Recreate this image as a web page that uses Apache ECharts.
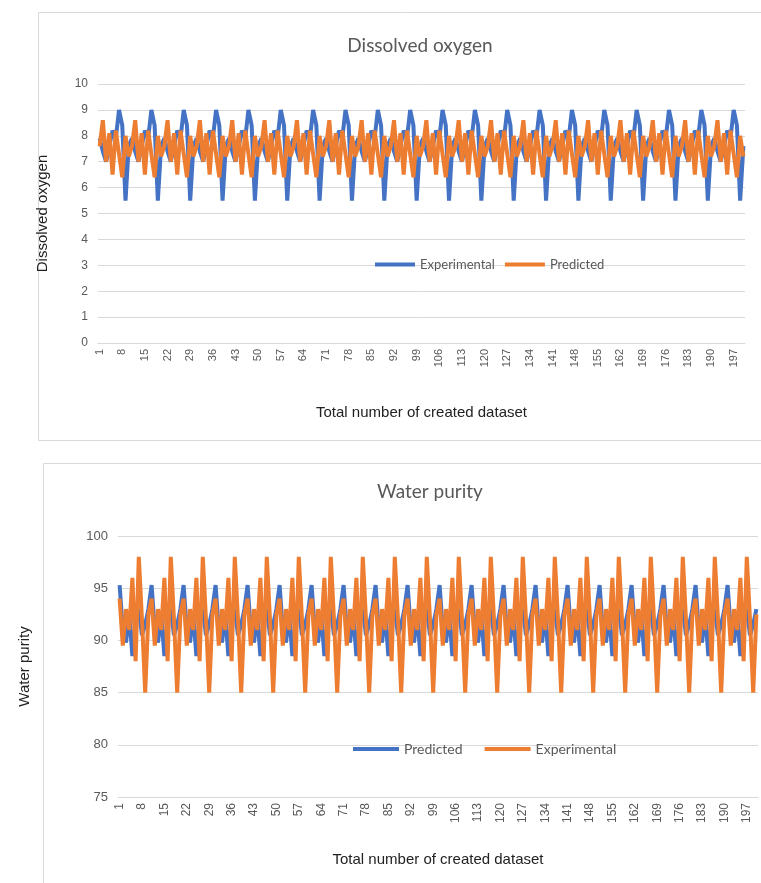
<!DOCTYPE html>
<html><head><meta charset="utf-8">
<script src="https://cdn.jsdelivr.net/npm/echarts@6/dist/echarts.min.js"></script>
<style>html,body{margin:0;padding:0;background:#fff}#c{width:761px;height:883px}</style>
</head><body><div id="c"></div>
<script>
const categories = [];
for (let i = 1; i <= 200; i++) categories.push(String(i));

const doExperimental = [
7.9,7.4,7.0,7.6,8.2,7.9,9.0,8.4,5.5,7.6,
7.9,7.4,7.0,7.6,8.2,7.9,9.0,8.4,5.5,7.6,
7.9,7.4,7.0,7.6,8.2,7.9,9.0,8.4,5.5,7.6,
7.9,7.4,7.0,7.6,8.2,7.9,9.0,8.4,5.5,7.6,
7.9,7.4,7.0,7.6,8.2,7.9,9.0,8.4,5.5,7.6,
7.9,7.4,7.0,7.6,8.2,7.9,9.0,8.4,5.5,7.6,
7.9,7.4,7.0,7.6,8.2,7.9,9.0,8.4,5.5,7.6,
7.9,7.4,7.0,7.6,8.2,7.9,9.0,8.4,5.5,7.6,
7.9,7.4,7.0,7.6,8.2,7.9,9.0,8.4,5.5,7.6,
7.9,7.4,7.0,7.6,8.2,7.9,9.0,8.4,5.5,7.6,
7.9,7.4,7.0,7.6,8.2,7.9,9.0,8.4,5.5,7.6,
7.9,7.4,7.0,7.6,8.2,7.9,9.0,8.4,5.5,7.6,
7.9,7.4,7.0,7.6,8.2,7.9,9.0,8.4,5.5,7.6,
7.9,7.4,7.0,7.6,8.2,7.9,9.0,8.4,5.5,7.6,
7.9,7.4,7.0,7.6,8.2,7.9,9.0,8.4,5.5,7.6,
7.9,7.4,7.0,7.6,8.2,7.9,9.0,8.4,5.5,7.6,
7.9,7.4,7.0,7.6,8.2,7.9,9.0,8.4,5.5,7.6,
7.9,7.4,7.0,7.6,8.2,7.9,9.0,8.4,5.5,7.6,
7.9,7.4,7.0,7.6,8.2,7.9,9.0,8.4,5.5,7.6,
7.9,7.4,7.0,7.6,8.2,7.9,9.0,8.4,5.5,7.6
];
const doPredicted = [
7.6,8.6,7.0,8.1,6.5,8.2,7.3,6.4,8.0,7.2,
7.6,8.6,7.0,8.1,6.5,8.2,7.3,6.4,8.0,7.2,
7.6,8.6,7.0,8.1,6.5,8.2,7.3,6.4,8.0,7.2,
7.6,8.6,7.0,8.1,6.5,8.2,7.3,6.4,8.0,7.2,
7.6,8.6,7.0,8.1,6.5,8.2,7.3,6.4,8.0,7.2,
7.6,8.6,7.0,8.1,6.5,8.2,7.3,6.4,8.0,7.2,
7.6,8.6,7.0,8.1,6.5,8.2,7.3,6.4,8.0,7.2,
7.6,8.6,7.0,8.1,6.5,8.2,7.3,6.4,8.0,7.2,
7.6,8.6,7.0,8.1,6.5,8.2,7.3,6.4,8.0,7.2,
7.6,8.6,7.0,8.1,6.5,8.2,7.3,6.4,8.0,7.2,
7.6,8.6,7.0,8.1,6.5,8.2,7.3,6.4,8.0,7.2,
7.6,8.6,7.0,8.1,6.5,8.2,7.3,6.4,8.0,7.2,
7.6,8.6,7.0,8.1,6.5,8.2,7.3,6.4,8.0,7.2,
7.6,8.6,7.0,8.1,6.5,8.2,7.3,6.4,8.0,7.2,
7.6,8.6,7.0,8.1,6.5,8.2,7.3,6.4,8.0,7.2,
7.6,8.6,7.0,8.1,6.5,8.2,7.3,6.4,8.0,7.2,
7.6,8.6,7.0,8.1,6.5,8.2,7.3,6.4,8.0,7.2,
7.6,8.6,7.0,8.1,6.5,8.2,7.3,6.4,8.0,7.2,
7.6,8.6,7.0,8.1,6.5,8.2,7.3,6.4,8.0,7.2,
7.6,8.6,7.0,8.1,6.5,8.2,7.3,6.4,8.0,7.2
];
const wpPredicted = [
95.3,91.0,89.8,92.5,88.5,92.0,93.0,90.5,91.5,93.0,
95.3,91.0,89.8,92.5,88.5,92.0,93.0,90.5,91.5,93.0,
95.3,91.0,89.8,92.5,88.5,92.0,93.0,90.5,91.5,93.0,
95.3,91.0,89.8,92.5,88.5,92.0,93.0,90.5,91.5,93.0,
95.3,91.0,89.8,92.5,88.5,92.0,93.0,90.5,91.5,93.0,
95.3,91.0,89.8,92.5,88.5,92.0,93.0,90.5,91.5,93.0,
95.3,91.0,89.8,92.5,88.5,92.0,93.0,90.5,91.5,93.0,
95.3,91.0,89.8,92.5,88.5,92.0,93.0,90.5,91.5,93.0,
95.3,91.0,89.8,92.5,88.5,92.0,93.0,90.5,91.5,93.0,
95.3,91.0,89.8,92.5,88.5,92.0,93.0,90.5,91.5,93.0,
95.3,91.0,89.8,92.5,88.5,92.0,93.0,90.5,91.5,93.0,
95.3,91.0,89.8,92.5,88.5,92.0,93.0,90.5,91.5,93.0,
95.3,91.0,89.8,92.5,88.5,92.0,93.0,90.5,91.5,93.0,
95.3,91.0,89.8,92.5,88.5,92.0,93.0,90.5,91.5,93.0,
95.3,91.0,89.8,92.5,88.5,92.0,93.0,90.5,91.5,93.0,
95.3,91.0,89.8,92.5,88.5,92.0,93.0,90.5,91.5,93.0,
95.3,91.0,89.8,92.5,88.5,92.0,93.0,90.5,91.5,93.0,
95.3,91.0,89.8,92.5,88.5,92.0,93.0,90.5,91.5,93.0,
95.3,91.0,89.8,92.5,88.5,92.0,93.0,90.5,91.5,93.0,
95.3,91.0,89.8,92.5,88.5,92.0,93.0,90.5,91.5,93.0
];
const wpExperimental = [
94,89.5,93,91,96,88,98,92,85,92.5,
94,89.5,93,91,96,88,98,92,85,92.5,
94,89.5,93,91,96,88,98,92,85,92.5,
94,89.5,93,91,96,88,98,92,85,92.5,
94,89.5,93,91,96,88,98,92,85,92.5,
94,89.5,93,91,96,88,98,92,85,92.5,
94,89.5,93,91,96,88,98,92,85,92.5,
94,89.5,93,91,96,88,98,92,85,92.5,
94,89.5,93,91,96,88,98,92,85,92.5,
94,89.5,93,91,96,88,98,92,85,92.5,
94,89.5,93,91,96,88,98,92,85,92.5,
94,89.5,93,91,96,88,98,92,85,92.5,
94,89.5,93,91,96,88,98,92,85,92.5,
94,89.5,93,91,96,88,98,92,85,92.5,
94,89.5,93,91,96,88,98,92,85,92.5,
94,89.5,93,91,96,88,98,92,85,92.5,
94,89.5,93,91,96,88,98,92,85,92.5,
94,89.5,93,91,96,88,98,92,85,92.5,
94,89.5,93,91,96,88,98,92,85,92.5,
94,89.5,93,91,96,88,98,92,85,92.5
];

const BLUE = '#4472C4', ORANGE = '#ED7D31';
const GRID_C = '#d9d9d9', TXT = '#595959';
const sansA = '"Liberation Sans", Arial, sans-serif';
const sansC = 'Lato, "Open Sans", sans-serif';

const chart = echarts.init(document.getElementById('c'), null, {renderer: 'canvas'});

function xAxis(gridIndex, nameGap, fs) {
  return {
    type: 'category', gridIndex, data: categories, boundaryGap: true,
    name: 'Total number of created dataset', nameLocation: 'middle', nameGap,
    nameTextStyle: {color: '#222', fontSize: 15, fontFamily: sansA},
    axisLine: {lineStyle: {color: GRID_C}}, axisTick: {show: false},
    axisLabel: {interval: 6, rotate: 90, color: TXT, fontSize: fs, fontFamily: sansA, margin: 6}
  };
}

chart.setOption({
  animation: false,
  grid: [
    {left: 98, right: 16, top: 84, height: 259},
    {left: 118, right: 3, top: 536, height: 261}
  ],
  xAxis: [xAxis(0, 62, 11), xAxis(1, 55, 12)],
  yAxis: [
    {type: 'value', gridIndex: 0, min: 0, max: 10, interval: 1,
     name: 'Dissolved oxygen', nameLocation: 'middle', nameGap: 48,
     nameTextStyle: {color: '#222', fontSize: 15, fontFamily: sansA},
     axisLine: {show: false}, axisTick: {show: false},
     axisLabel: {color: TXT, fontSize: 12, fontFamily: sansA, margin: 10},
     splitLine: {lineStyle: {color: GRID_C}}},
    {type: 'value', gridIndex: 1, min: 75, max: 100, interval: 5,
     name: 'Water purity', nameLocation: 'middle', nameGap: 86,
     nameTextStyle: {color: '#222', fontSize: 15, fontFamily: sansA},
     axisLine: {show: false}, axisTick: {show: false},
     axisLabel: {color: TXT, fontSize: 13, fontFamily: sansA, margin: 10},
     splitLine: {lineStyle: {color: GRID_C}}}
  ],
  legend: [
    {left: 370, top: 253, itemWidth: 40, itemHeight: 4, itemGap: 10,
     icon: 'rect', textStyle: {color: TXT, fontSize: 13, fontFamily: sansC},
     data: [{name: 'Experimental', itemStyle: {color: BLUE}}, {name: 'Predicted', itemStyle: {color: ORANGE}}]},
    {left: 348, top: 737, itemWidth: 46, itemHeight: 4, itemGap: 22,
     icon: 'rect', textStyle: {color: TXT, fontSize: 14, fontFamily: sansC},
     formatter: n => n.trim(),
     data: [{name: 'Predicted ', itemStyle: {color: BLUE}}, {name: 'Experimental ', itemStyle: {color: ORANGE}}]}
  ],
  series: [
    {name: 'Experimental', type: 'line', xAxisIndex: 0, yAxisIndex: 0, data: doExperimental,
     showSymbol: false, symbol: 'none', lineStyle: {color: BLUE, width: 4}, itemStyle: {color: BLUE}},
    {name: 'Predicted', type: 'line', xAxisIndex: 0, yAxisIndex: 0, data: doPredicted,
     showSymbol: false, symbol: 'none', lineStyle: {color: ORANGE, width: 4}, itemStyle: {color: ORANGE}},
    {name: 'Predicted ', type: 'line', xAxisIndex: 1, yAxisIndex: 1, data: wpPredicted,
     showSymbol: false, symbol: 'none', lineStyle: {color: BLUE, width: 4}, itemStyle: {color: BLUE}},
    {name: 'Experimental ', type: 'line', xAxisIndex: 1, yAxisIndex: 1, data: wpExperimental,
     showSymbol: false, symbol: 'none', lineStyle: {color: ORANGE, width: 4}, itemStyle: {color: ORANGE}}
  ],
  graphic: [
    {type: 'rect', shape: {x: 38.5, y: 12.5, width: 740, height: 428}, style: {fill: 'none', stroke: GRID_C, lineWidth: 1}, z: -1},
    {type: 'rect', shape: {x: 43.5, y: 463.5, width: 740, height: 440}, style: {fill: 'none', stroke: GRID_C, lineWidth: 1}, z: -1},
    {type: 'text', x: 420, y: 36, style: {text: 'Dissolved oxygen', fill: TXT, fontSize: 19, fontFamily: sansC, textAlign: 'center'}},
    {type: 'text', x: 430, y: 482, style: {text: 'Water purity', fill: TXT, fontSize: 19, fontFamily: sansC, textAlign: 'center'}}
  ]
});
</script></body></html>
